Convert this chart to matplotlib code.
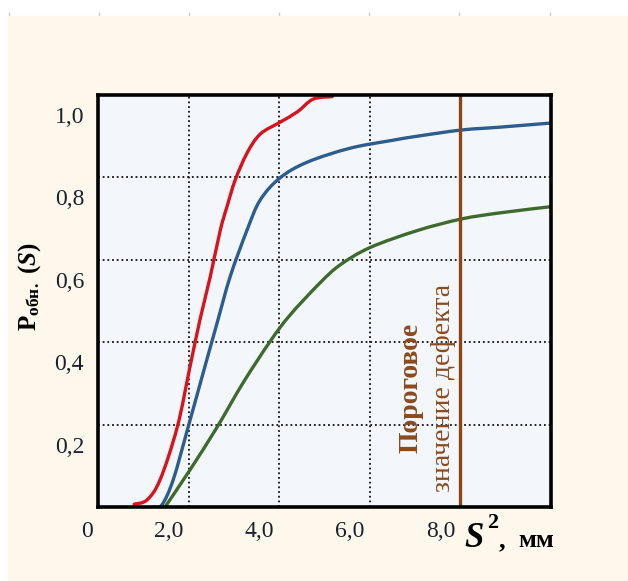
import matplotlib.pyplot as plt
import matplotlib.transforms as mtransforms
from matplotlib.patches import Rectangle, PathPatch
from matplotlib.lines import Line2D
from matplotlib.path import Path

# curves: S^2 (mm) -> P
red_s = [0.80, 1.08, 1.37, 1.75, 2.03, 2.25, 2.48, 2.70, 2.85, 3.03, 3.29, 3.58, 4.02, 4.40, 4.75, 5.17]
red_p = [0.007, 0.017, 0.066, 0.194, 0.340, 0.454, 0.560, 0.672, 0.730, 0.794, 0.859, 0.905, 0.934, 0.959, 0.990, 0.996]

blue_s = [1.22, 1.41, 1.66, 1.99, 2.32, 2.63, 2.92, 3.29, 3.58, 4.02, 4.62, 5.57, 6.50, 7.05, 8.02, 8.88, 10.0]
blue_p = [0.0, 0.005, 0.066, 0.194, 0.325, 0.447, 0.560, 0.672, 0.745, 0.799, 0.837, 0.871, 0.890, 0.900, 0.915, 0.922, 0.932]

green_s = [1.48, 2.03, 2.63, 3.20, 3.80, 4.24, 4.91, 5.35, 6.01, 7.05, 8.02, 8.88, 10.0]
green_p = [0.0, 0.090, 0.194, 0.301, 0.402, 0.466, 0.545, 0.588, 0.630, 0.671, 0.699, 0.714, 0.729]

threshold_s = 8.0

# one shared "0" in the corner, so the y axis starts its labels at 0,2
x_ticks = [0, 2, 4, 6, 8]
x_tick_labels = ['0', '2,0', '4,0', '6,0', '8,0']
y_ticks = [0.2, 0.4, 0.6, 0.8, 1.0]
y_tick_labels = ['0,2', '0,4', '0,6', '0,8', '1,0']

W, H = 628, 581
plt.rcParams['font.family'] = ['Liberation Serif', 'DejaVu Serif']
plt.rcParams['mathtext.fontset'] = 'custom'
plt.rcParams['mathtext.rm'] = 'Liberation Serif:bold'
plt.rcParams['mathtext.bf'] = 'Liberation Serif:bold'
plt.rcParams['mathtext.it'] = 'Liberation Serif:bold:italic'


def px(x, y):
    # pixel position (from top left) -> figure fraction
    return x / W, 1 - y / H


def smooth_path(xs, ys):
    # catmull-rom through the read points, written as cubic bezier segments
    pts = list(zip(xs, ys))
    verts = [pts[0]]
    codes = [Path.MOVETO]
    for i in range(len(pts) - 1):
        p0 = pts[i - 1] if i > 0 else pts[i]
        p1, p2 = pts[i], pts[i + 1]
        p3 = pts[i + 2] if i + 2 < len(pts) else pts[i + 1]
        c1 = (p1[0] + (p2[0] - p0[0]) / 6, p1[1] + (p2[1] - p0[1]) / 6)
        c2 = (p2[0] - (p3[0] - p1[0]) / 6, p2[1] - (p3[1] - p1[1]) / 6)
        verts += [c1, c2, p2]
        codes += [Path.CURVE4] * 3
    return Path(verts, codes)


fig = plt.figure(figsize=(W / 100, H / 100), dpi=100, facecolor='white')

# cream page background with tiny marks above it
fig.patches.append(Rectangle(px(8, H), (W - 8) / W, (H - 16) / H,
                             transform=fig.transFigure, color='#fef8ec', zorder=-10))
for mx in [9, 99, 189, 279, 369, 459, 550]:
    fig.lines.append(Line2D([mx / W, mx / W], [1 - 13 / H, 1 - 16 / H],
                            transform=fig.transFigure, color='#c8c8c8', lw=1, zorder=-10))

left, top, right, bottom = 98, 95, 551, 507
ax = fig.add_axes([left / W, 1 - bottom / H, (right - left) / W, (bottom - top) / H])
ax.set_facecolor('#f3f7fc')
ax.set_xlim(0, 10)
ax.set_ylim(0, 1.0)

ax.grid(True, color='#111111', linestyle=(0, (1, 1.6)), lw=1.3, zorder=1)
ax.set_axisbelow(True)

for xs, ys, col in [(green_s, green_p, '#3f6a2d'),
                    (blue_s, blue_p, '#2c5d8e'),
                    (red_s, red_p, '#d9121b')]:
    ax.add_patch(PathPatch(smooth_path(xs, ys), facecolor='none', edgecolor=col,
                           lw=2.4, zorder=3, capstyle='round'))
ax.axvline(threshold_s, color='#8b4513', lw=2.4, zorder=4)

ax.text(6.9, 0.29, 'Пороговое', rotation=90, ha='center', va='center',
        color='#8b4a1c', fontsize=20, fontweight='bold', zorder=5)
ax.text(7.63, 0.29, 'значение дефекта', rotation=90, ha='center', va='center',
        color='#8b4a1c', fontsize=20, zorder=5)

for s in ax.spines.values():
    s.set_linewidth(2.6)
    s.set_color('black')
    s.set_zorder(6)

ax.set_xticks(x_ticks)
ax.set_xticklabels(x_tick_labels)
ax.set_yticks(y_ticks)
ax.set_yticklabels(y_tick_labels)
ax.tick_params(length=0, labelsize=17, labelcolor='#1a2230', pad=10)

dx = mtransforms.ScaledTranslation(-0.05, 0, fig.dpi_scale_trans)
for lab in ax.get_xticklabels():
    lab.set_ha('right')
    lab.set_transform(lab.get_transform() + dx)
dy = mtransforms.ScaledTranslation(0, -0.12, fig.dpi_scale_trans)
for lab in ax.get_yticklabels():
    lab.set_va('top')
    lab.set_transform(lab.get_transform() + dy)

fig.text(*px(30, 287), r'$\mathrm{P}_{\mathrm{обн.}}\ (\mathit{S})$', rotation=90,
         ha='center', va='center', fontsize=18, color='black')

# x axis title: big italic S, raised 2, then ", мм"
fig.text(*px(464, 547), 'S', ha='left', va='baseline', fontsize=25,
         fontweight='bold', fontstyle='italic', color='black')
fig.text(*px(487, 528), '2', ha='left', va='baseline', fontsize=16,
         fontweight='bold', color='black')
fig.text(*px(499, 547), ',', ha='left', va='baseline', fontsize=19,
         fontweight='bold', color='black')
fig.text(*px(518, 547), 'мм', ha='left', va='baseline', fontsize=19,
         fontweight='bold', color='black')

fig.savefig('out.png', dpi=100, facecolor=fig.get_facecolor())
